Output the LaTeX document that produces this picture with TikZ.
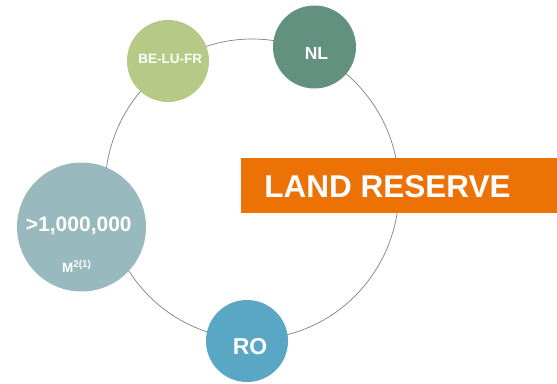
\documentclass[tikz,border=0pt]{standalone}
\usepackage{fontspec}
\setmainfont{Liberation Sans}

\definecolor{belgreen}{HTML}{B6C986}
\definecolor{nlgreen}{HTML}{62917F}
\definecolor{areateal}{HTML}{98BABE}
\definecolor{roblue}{HTML}{59A7C5}
\definecolor{reserveorange}{HTML}{EC7206}

\begin{document}
\begin{tikzpicture}
    [x=1pt, y=-1pt,
     bubble/.style={circle, fill=#1, draw=none, inner sep=0pt},
     txt/.style={anchor=base, text=white, inner sep=0pt}]

    \useasboundingbox (0, 0) rectangle (557, 383);

    \draw [color=gray, line width=0.7pt] (252, 189) ellipse [x radius=147, y radius=150];

    \node at (168, 61)    (n1) [bubble=belgreen, minimum size=82] {};
    \node at (314.5, 47)  (n2) [bubble=nlgreen, minimum size=83] {};
    \node at (81.5, 227)  (n3) [bubble=areateal, minimum size=129] {};
    \node at (247, 341)   (n4) [bubble=roblue, minimum size=82] {};
    \node at (399, 185.5) (n5) [rectangle, fill=reserveorange, minimum width=316, minimum height=55] {};

    \node at (170.3, 63.3) (n1t) [txt, font=\bfseries\fontsize{13.5}{14}\selectfont] {BE-LU-FR};
    \node at (316.5, 59)   (n2t) [txt, font=\bfseries\fontsize{17.5}{18}\selectfont] {NL};
    \node at (78.8, 231.7) (n3t) [txt, font=\bfseries\fontsize{21}{22}\selectfont] {>1,000,000};
    \node at (76.5, 272.7) (n3u) [txt, font=\bfseries\fontsize{13.5}{14}\selectfont]
        {M\raisebox{5.3pt}{\fontsize{9.8}{10}\selectfont 2(1)}};
    \node at (250, 354.7)  (n4t) [txt, font=\bfseries\fontsize{23}{24}\selectfont] {RO};
    \node at (387.5, 197)  (n5t) [txt, font=\bfseries\fontsize{31.5}{32}\selectfont] {LAND RESERVE};

\end{tikzpicture}
\end{document}
